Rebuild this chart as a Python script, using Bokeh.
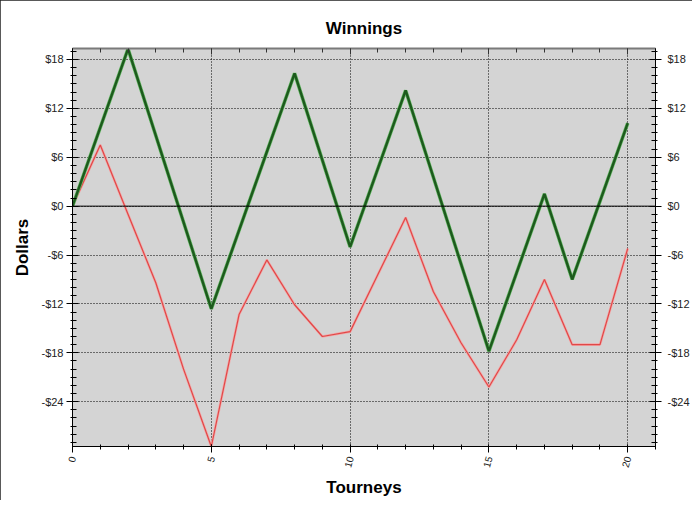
import math
from bokeh.plotting import figure
from bokeh.models import (LinearAxis, FixedTicker, Span, Range1d)
from bokeh.embed import file_html
from bokeh.resources import INLINE

# ---- data ----
green_x = [0, 2, 5, 8, 10, 12, 15, 17, 18, 20]
green_y = [0.0, 19.3, -12.6, 16.3, -5.0, 14.2, -17.8, 1.5, -9.0, 10.2]

red_x = list(range(0, 21))
red_y = [0.0, 7.5, -1.0, -9.4, -20.0, -29.5, -13.3, -6.6, -12.1, -16.0,
         -15.4, -8.4, -1.4, -10.5, -16.8, -22.2, -16.4, -9.0, -17.0, -17.0, -5.2]

y_ticks = [-24, -18, -12, -6, 0, 6, 12, 18]
y_labels = {t: ("-$%d" % -t if t < 0 else "$%d" % t) for t in y_ticks}
x_ticks = [0, 5, 10, 15, 20]
x_minor = list(range(0, 22))
y_minor = list(range(-29, 20))

FONT = "Liberation Sans"

p = figure(width=692, height=500,
           x_range=Range1d(0, 21.0), y_range=Range1d(-29.5, 19.35),
           output_backend="svg", toolbar_location=None,
           title="Winnings", x_axis_label="Tourneys", y_axis_label="Dollars",
           min_border_left=72, min_border_right=37, min_border_top=48, min_border_bottom=53)

p.styles = {"outline": "1px solid #222", "outline-offset": "-1px"}
p.background_fill_color = "#d4d4d4"
p.border_fill_color = "white"
p.outline_line_color = "#808080"
p.outline_line_width = 1

p.title.align = "center"
p.title.text_font = FONT
p.title.text_font_size = "17px"
p.title.text_font_style = "bold"
p.title.text_color = "black"
p.title.standoff = 21

# grids
p.xgrid.ticker = FixedTicker(ticks=x_ticks)
p.ygrid.ticker = FixedTicker(ticks=y_ticks)
for g in (p.xgrid, p.ygrid):
    g.grid_line_color = "black"
    g.grid_line_dash = "1 2"
    g.grid_line_width = 1

# zero line
p.add_layout(Span(location=0, dimension="width", line_color="black", line_width=1))

def style_y(ax):
    ax.ticker = FixedTicker(ticks=y_ticks, minor_ticks=y_minor)
    ax.major_label_overrides = y_labels
    ax.major_label_text_font = FONT
    ax.major_label_text_font_size = "11px"
    ax.major_label_text_color = "#222222"
    ax.major_tick_in = 6
    ax.major_tick_out = 6
    ax.minor_tick_in = 4
    ax.minor_tick_out = 2
    ax.major_tick_line_color = "black"
    ax.minor_tick_line_color = "black"
    ax.axis_line_color = "black"
    ax.major_label_standoff = 3

style_y(p.yaxis[0])
p.yaxis[0].axis_label_text_font = FONT
p.yaxis[0].axis_label_text_font_size = "17px"
p.yaxis[0].axis_label_text_font_style = "bold"
p.yaxis[0].axis_label_text_color = "black"
p.yaxis[0].axis_label_standoff = 6

right = LinearAxis()
style_y(right)
right.major_label_standoff = 6
p.add_layout(right, "right")

xa = p.xaxis[0]
xa.ticker = FixedTicker(ticks=x_ticks, minor_ticks=x_minor)
xa.major_label_orientation = 1.3
xa.major_label_text_font = FONT
xa.major_label_text_font_size = "10px"
xa.major_label_text_color = "#222222"
xa.major_tick_in = 2
xa.major_tick_out = 6
xa.minor_tick_in = 2
xa.minor_tick_out = 3
xa.axis_line_color = "black"
xa.major_label_standoff = 4
xa.axis_label_text_font = FONT
xa.axis_label_text_font_size = "17px"
xa.axis_label_text_font_style = "bold"
xa.axis_label_text_color = "black"
xa.axis_label_standoff = 6

top = LinearAxis()
top.ticker = FixedTicker(ticks=x_ticks, minor_ticks=x_minor)
top.major_label_overrides = {t: "" for t in x_ticks}
top.major_label_standoff = 0
top.major_tick_in = 6
top.major_tick_out = 0
top.minor_tick_in = 4
top.minor_tick_out = 0
top.axis_line_color = "#7a7a7a"
top.axis_line_width = 2
top.major_tick_line_color = "#333333"
top.minor_tick_line_color = "#333333"
p.add_layout(top, "above")

# lines
p.line(red_x, red_y, line_color="#f2a8a8", line_width=2.6)
p.line(red_x, red_y, line_color="#e04848", line_width=1.2)
p.line(green_x, green_y, line_color="#62b862", line_width=3.6)
p.line(green_x, green_y, line_color="#1d5a1d", line_width=2.4)

open("out.html", "w").write(file_html(p, INLINE))
